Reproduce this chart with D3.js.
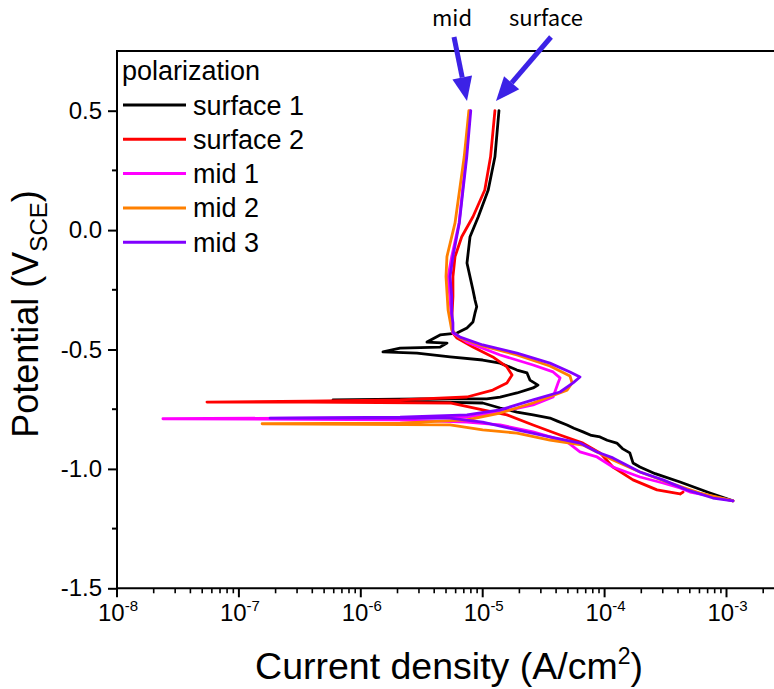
<!DOCTYPE html>
<html>
<head>
<meta charset="utf-8">
<script src="https://cdn.jsdelivr.net/npm/d3@7"></script>
<style>
  body { margin: 0; background: #fff; }
  svg { display: block; }
  text { font-family: "Liberation Sans", Arial, sans-serif; fill: #000; }
</style>
</head>
<body>
<svg id="chart" width="774" height="689"></svg>
<script>
// Potentiodynamic polarization curves: [current density (A/cm2), potential (V vs SCE)]
// Each curve runs from the cathodic end, through the corrosion potential, to the anodic end.
const surface1 = [
  [1.13e-3, -1.134], [7.33e-4, -1.101], [4.16e-4, -1.055], [2.6e-4, -1.02], [1.95e-4, -0.992],
  [1.71e-4, -0.975], [1.61e-4, -0.933], [1.40e-4, -0.915], [1.26e-4, -0.892], [1.05e-4, -0.88],
  [9.17e-5, -0.866], [7.8e-5, -0.86], [6.65e-5, -0.845], [5.6e-5, -0.83], [4.92e-5, -0.816],
  [4.1e-5, -0.80], [3.56e-5, -0.787], [2.59e-5, -0.774], [1.91e-5, -0.762], [1.39e-5, -0.745],
  [1.00e-5, -0.724], [4.47e-6, -0.720], [5.92e-7, -0.711], [3.1e-6, -0.707], [1.08e-5, -0.707],
  [1.39e-5, -0.699], [1.91e-5, -0.682], [2.59e-5, -0.661], [2.84e-5, -0.649], [2.44e-5, -0.628],
  [2.31e-5, -0.598], [1.91e-5, -0.586], [1.39e-5, -0.557], [1.00e-5, -0.544], [5.40e-6, -0.531],
  [2.89e-6, -0.515], [1.52e-6, -0.510], [2.10e-6, -0.494], [4.47e-6, -0.490], [5.09e-6, -0.473],
  [3.49e-6, -0.469], [4.47e-6, -0.439], [6.15e-6, -0.431], [7.43e-6, -0.410], [8.32e-6, -0.385],
  [8.65e-6, -0.347], [8.93e-6, -0.321], [8.65e-6, -0.293], [8.32e-6, -0.251], [7.43e-6, -0.138],
  [7.87e-6, -0.028], [9.20e-6, 0.056], [1.11e-5, 0.168], [1.26e-5, 0.307], [1.36e-5, 0.50]
];
const surface2 = [
  [4.40e-4, -1.097], [4.16e-4, -1.105], [2.69e-4, -1.088], [1.71e-4, -1.046], [1.17e-4, -0.992],
  [9.17e-5, -0.933], [6.65e-5, -0.892], [4.31e-5, -0.858], [2.59e-5, -0.816], [1.58e-5, -0.774],
  [1.00e-5, -0.753], [5.40e-6, -0.724], [3.69e-7, -0.720], [5.47e-8, -0.720], [3.69e-7, -0.716],
  [2.10e-6, -0.711], [7.43e-6, -0.699], [1.21e-5, -0.670], [1.58e-5, -0.640], [1.74e-5, -0.607],
  [1.58e-5, -0.573], [1.21e-5, -0.531], [8.32e-6, -0.490], [6.15e-6, -0.452], [5.70e-6, -0.431],
  [5.57e-6, -0.376], [5.70e-6, -0.279], [5.70e-6, -0.195], [5.93e-6, -0.111], [6.73e-6, -0.028],
  [8.32e-6, 0.056], [1.04e-5, 0.168], [1.16e-5, 0.307], [1.26e-5, 0.50]
];
const mid1 = [
  [1.13e-3, -1.134], [7.33e-4, -1.113], [5.02e-4, -1.097], [4.16e-4, -1.080], [3.01e-4, -1.059],
  [1.95e-4, -1.034], [1.17e-4, -0.992], [8.67e-5, -0.950], [6.28e-5, -0.929], [4.92e-5, -0.887],
  [2.59e-5, -0.845], [1.39e-5, -0.816], [7.43e-6, -0.804], [2.10e-6, -0.795], [2.38e-8, -0.790],
  [3.17e-7, -0.787], [7.43e-6, -0.783], [1.39e-5, -0.762], [2.59e-5, -0.732], [3.78e-5, -0.699],
  [4.15e-5, -0.640], [4.31e-5, -0.619], [3.78e-5, -0.594], [2.59e-5, -0.565], [1.39e-5, -0.523],
  [7.43e-6, -0.469], [5.70e-6, -0.431], [5.57e-6, -0.389], [5.40e-6, -0.293], [5.20e-6, -0.195],
  [5.57e-6, -0.111], [6.40e-6, 0.030], [7.30e-6, 0.307], [7.87e-6, 0.50]
];
const mid2 = [
  [1.13e-3, -1.134], [6.07e-4, -1.101], [3.25e-4, -1.055], [1.95e-4, -1.013], [1.17e-4, -0.963],
  [6.65e-5, -0.900], [3.56e-5, -0.879], [1.91e-5, -0.850], [1.00e-5, -0.837], [5.40e-6, -0.816],
  [1.55e-7, -0.811], [2.10e-6, -0.808], [7.43e-6, -0.795], [1.39e-5, -0.766], [2.59e-5, -0.724],
  [4.92e-5, -0.670], [5.41e-5, -0.640], [5.20e-5, -0.611], [3.56e-5, -0.569], [1.91e-5, -0.523],
  [1.00e-5, -0.485], [6.52e-6, -0.452], [5.57e-6, -0.418], [5.20e-6, -0.335], [5.00e-6, -0.195],
  [5.09e-6, -0.111], [5.93e-6, 0.030], [7.05e-6, 0.307], [7.70e-6, 0.50]
];
const mid3 = [
  [1.13e-3, -1.134], [7.74e-4, -1.122], [4.74e-4, -1.088], [3.01e-4, -1.046], [1.95e-4, -1.013],
  [1.17e-4, -0.954], [8.67e-5, -0.929], [6.28e-5, -0.892], [3.56e-5, -0.866], [1.91e-5, -0.837],
  [1.00e-5, -0.804], [5.40e-6, -0.787], [1.80e-7, -0.787], [2.10e-6, -0.783], [7.43e-6, -0.774],
  [1.39e-5, -0.753], [2.59e-5, -0.711], [4.31e-5, -0.678], [5.51e-5, -0.640], [6.28e-5, -0.615],
  [5.20e-5, -0.594], [3.56e-5, -0.557], [1.91e-5, -0.515], [1.00e-5, -0.481], [6.52e-6, -0.448],
  [5.70e-6, -0.427], [5.70e-6, -0.389], [5.57e-6, -0.347], [5.57e-6, -0.279], [5.40e-6, -0.195],
  [5.70e-6, -0.111], [6.43e-6, 0.030], [7.40e-6, 0.307], [7.98e-6, 0.50]
];

const seriesNames = ["surface 1", "surface 2", "mid 1", "mid 2", "mid 3"];
const seriesData = [surface1, surface2, mid1, mid2, mid3];
const seriesColors = ["#000000", "#ff0000", "#ff00ff", "#ff8000", "#8000ff"];

const xTickExponents = [-8, -7, -6, -5, -4, -3];
const yTicks = [-1.5, -1.0, -0.5, 0.0, 0.5];
const yMinorTicks = [-1.25, -0.75, -0.25, 0.25];

const legendTitle = "polarization";
const xTitle = "Current density (A/cm";
const yTitle = "Potential (V";
const annotations = [
  { label: "mid", tx: 452, ty: 26, from: [454, 37], to: [467, 101] },
  { label: "surface", tx: 546, ty: 26, from: [551, 37], to: [496, 101] }
];

const svg = d3.select("#chart");
const W = 774, H = 689;
const plotLeft = 117, plotTop = 51, plotBottom = 588.3;
const decade = 121.9;

const x = d3.scaleLog().domain([1e-8, 1e-2]).range([plotLeft, plotLeft + 6 * decade]);
const y = d3.scaleLinear().domain([-1.5, 0.75]).range([plotBottom, plotTop]);

// clip for the data lines
svg.append("defs").append("clipPath").attr("id", "plotclip")
  .append("rect").attr("x", plotLeft).attr("y", plotTop)
  .attr("width", 6 * decade).attr("height", plotBottom - plotTop);

// Curves
const line = d3.line().x(d => x(d[0])).y(d => y(d[1]));
const gLines = svg.append("g").attr("clip-path", "url(#plotclip)");
seriesData.forEach((data, i) => {
  gLines.append("path")
    .attr("d", line(data))
    .attr("fill", "none")
    .attr("stroke", seriesColors[i])
    .attr("stroke-width", 2.8)
    .attr("stroke-linejoin", "round")
    .attr("stroke-linecap", "round");
});

// Y axis
const yAxis = d3.axisLeft(y).tickValues(yTicks).tickSize(9).tickPadding(6)
  .tickFormat(d => d.toFixed(1));
const gy = svg.append("g").attr("transform", `translate(${plotLeft},0)`).call(yAxis);
gy.select(".domain").remove();
gy.selectAll(".tick line").attr("stroke", "#000").attr("stroke-width", 2);
gy.selectAll(".tick text").attr("font-size", 24).attr("font-family", "'Liberation Sans', Arial, sans-serif");
svg.append("g").selectAll("line").data(yMinorTicks).join("line")
  .attr("x1", plotLeft - 5).attr("x2", plotLeft)
  .attr("y1", d => y(d)).attr("y2", d => y(d))
  .attr("stroke", "#000").attr("stroke-width", 2);

// X axis: major ticks with power-of-ten labels, minor ticks 2..9
const majorVals = xTickExponents.map(e => Math.pow(10, e));
const minorVals = [];
for (let e = -8; e < -2; e++) for (let k = 2; k <= 9; k++) minorVals.push(k * Math.pow(10, e));
const gx = svg.append("g");
gx.selectAll("line.major").data(majorVals).join("line").attr("class", "major")
  .attr("x1", d => x(d)).attr("x2", d => x(d)).attr("y1", plotBottom).attr("y2", plotBottom + 9)
  .attr("stroke", "#000").attr("stroke-width", 2);
gx.selectAll("line.minor").data(minorVals).join("line").attr("class", "minor")
  .attr("x1", d => x(d)).attr("x2", d => x(d)).attr("y1", plotBottom).attr("y2", plotBottom + 5)
  .attr("stroke", "#000").attr("stroke-width", 1.6);
const xl = gx.selectAll("text").data(xTickExponents).join("text")
  .attr("x", e => x(Math.pow(10, e)) + 1)
  .attr("y", plotBottom + 33)
  .attr("text-anchor", "middle")
  .attr("font-size", 24);
xl.append("tspan").text("10");
xl.append("tspan").attr("dy", -10).attr("font-size", 15).text(e => String(e));

// Frame lines
const frame = svg.append("g").attr("stroke", "#000").attr("stroke-width", 2);
frame.append("line").attr("x1", plotLeft).attr("x2", plotLeft).attr("y1", plotTop).attr("y2", plotBottom);
frame.append("line").attr("x1", plotLeft - 1).attr("x2", W).attr("y1", plotBottom).attr("y2", plotBottom);
frame.append("line").attr("x1", plotLeft - 1).attr("x2", W).attr("y1", plotTop).attr("y2", plotTop);

// Axis titles
const xt = svg.append("text").attr("x", 449).attr("y", 679).attr("text-anchor", "middle").attr("font-size", 37.5);
xt.append("tspan").text(xTitle);
xt.append("tspan").attr("dy", -15).attr("font-size", 23).text("2");
xt.append("tspan").attr("dy", 15).text(")");

const yt = svg.append("text").attr("transform", "translate(38,314) rotate(-90)")
  .attr("text-anchor", "middle").attr("font-size", 36);
yt.append("tspan").text(yTitle);
yt.append("tspan").attr("dy", 9).attr("font-size", 24).text("SCE");
yt.append("tspan").attr("dy", -9).text(")");

// Legend
const lg = svg.append("g");
lg.append("text").attr("x", 122).attr("y", 80).attr("font-size", 27).text(legendTitle);
seriesNames.forEach((name, i) => {
  const ly = 105 + i * 34.3;
  lg.append("line").attr("x1", 123).attr("x2", 186).attr("y1", ly).attr("y2", ly)
    .attr("stroke", seriesColors[i]).attr("stroke-width", 3);
  lg.append("text").attr("x", 193).attr("y", ly + 9.5).attr("font-size", 27).text(name);
});

// Arrow annotations
const arrowColor = "#3c22e6";
annotations.forEach(a => {
  svg.append("text").attr("x", a.tx).attr("y", a.ty).attr("text-anchor", "middle")
    .attr("font-size", 22).style("font-family", "'Noto Sans CJK KR', 'Noto Sans', sans-serif").text(a.label);
  const [x0, y0] = a.from, [x1, y1] = a.to;
  const ang = Math.atan2(y1 - y0, x1 - x0);
  const headLen = 24, headW = 10;
  const bx = x1 - headLen * Math.cos(ang), by = y1 - headLen * Math.sin(ang);
  svg.append("line").attr("x1", x0).attr("y1", y0).attr("x2", bx).attr("y2", by)
    .attr("stroke", arrowColor).attr("stroke-width", 5);
  const px = -Math.sin(ang) * headW, py = Math.cos(ang) * headW;
  svg.append("path")
    .attr("d", `M${x1},${y1}L${bx + px},${by + py}L${bx - px},${by - py}Z`)
    .attr("fill", arrowColor);
});
</script>
</body>
</html>
